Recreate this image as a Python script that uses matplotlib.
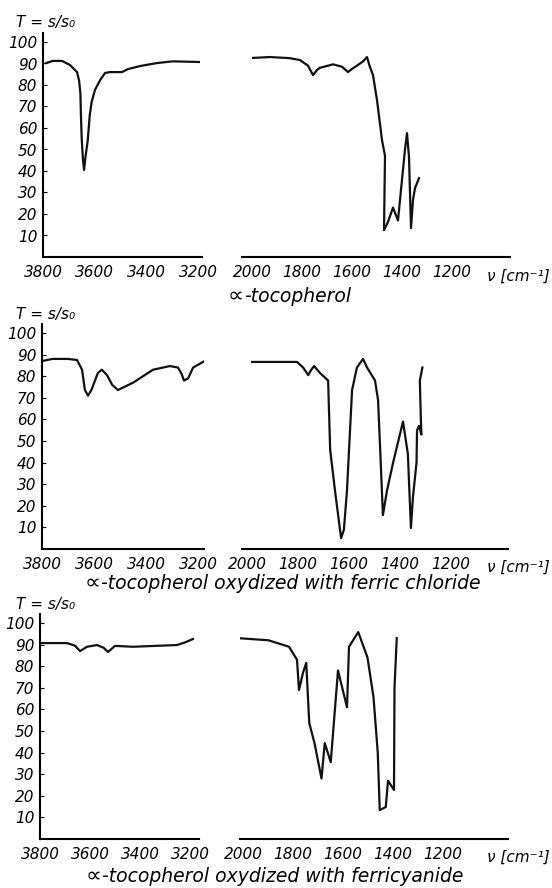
import matplotlib
matplotlib.use("Agg")
import matplotlib.pyplot as plt

# spectrum 1: alpha-tocopherol
p1_left_wn = [3788, 3762, 3727, 3696, 3669, 3661, 3656, 3654, 3651, 3646, 3642, 3636, 3628,
              3620, 3613, 3600, 3580, 3561, 3542, 3496, 3473, 3427, 3362, 3300, 3200]
p1_left_T = [90.2, 91.2, 91.2, 89.3, 86, 82, 76, 66, 55, 45, 40.5, 47, 54,
             66, 72, 77.7, 82.3, 85.6, 86, 86, 87.4, 88.8, 90.2, 91, 90.7]
p1_right_wn = [1996, 1928, 1850, 1808, 1776, 1756, 1740, 1728, 1676, 1640, 1616, 1600, 1580,
               1556, 1540, 1530, 1516, 1500, 1480, 1468, 1472, 1456, 1436, 1416, 1400, 1388,
               1380, 1372, 1364, 1356, 1348, 1332]
p1_right_T = [92.6, 93, 92.5, 91.6, 89, 84.6, 87, 88, 89.6, 88.5, 86, 87.5, 89,
              91, 93, 89, 84.6, 73, 54.4, 47, 12.5, 16.3, 23, 17, 36, 50,
              57.6, 46.5, 13.4, 26.5, 32, 36.7]

# spectrum 2: oxydized with ferric chloride
p2_left_wn = [3800, 3760, 3700, 3665, 3646, 3635, 3623, 3610, 3585, 3570, 3550, 3530, 3508,
              3450, 3373, 3308, 3277, 3263, 3254, 3238, 3219, 3175]
p2_left_T = [87, 88, 88, 87.5, 83, 73.6, 71, 73.6, 81.5, 83, 80.5, 76, 73.6,
             77, 83, 84.7, 84, 81, 78, 79, 84, 87]
p2_right_wn = [1980, 1804, 1780, 1760, 1748, 1737, 1714, 1682, 1674, 1655, 1631, 1620, 1608,
               1588, 1569, 1545, 1529, 1498, 1486, 1478, 1467, 1451, 1427, 1388, 1369, 1357,
               1349, 1335, 1333, 1325, 1316, 1318, 1322, 1312]
p2_right_T = [86.6, 86.6, 84, 80.5, 83, 84.7, 81.5, 78, 46, 27, 5, 9, 27,
              73.6, 84, 88, 84, 78, 69, 47, 15.7, 27, 40, 59, 44, 9.7,
              24, 40, 55, 57, 53, 60, 78, 84]

# spectrum 3: oxydized with ferricyanide
p3_left_wn = [3800, 3692, 3660, 3640, 3612, 3572, 3545, 3528, 3500, 3428, 3252, 3220, 3188]
p3_left_T = [90.7, 90.7, 89.5, 87, 89, 89.8, 88.5, 86.6, 89.4, 89, 89.8, 91, 92.6]
p3_right_wn = [2020, 1898, 1816, 1784, 1776, 1760, 1747, 1735, 1714, 1686, 1673, 1649, 1620,
               1584, 1576, 1539, 1502, 1478, 1461, 1453, 1429, 1420, 1396, 1394, 1385]
p3_right_T = [93, 92, 89, 83, 69, 77, 81.5, 53.7, 44.4, 28, 44.4, 35.6, 78,
              61, 89, 95.8, 84, 65.7, 40, 13.4, 14.8, 27, 22.7, 70, 93]

left_ticks = [3800, 3600, 3400, 3200]
right_ticks = [2000, 1800, 1600, 1400, 1200]
y_ticks = [10, 20, 30, 40, 50, 60, 70, 80, 90, 100]

alpha_sign = "\u221d"
titles = ["-tocopherol",
          "-tocopherol oxydized with ferric chloride",
          "-tocopherol oxydized with ferricyanide"]

W, H = 552, 888
fig = plt.figure(figsize=(W / 100, H / 100), dpi=100)
fs = 11
tfont = dict(family="DejaVu Sans", style="oblique", fontsize=fs)


def px_axes(x0, x1, ytop, ybot):
    return fig.add_axes([x0 / W, 1 - ybot / H, (x1 - x0) / W, (ybot - ytop) / H])


def style(ax, xlim, ticks, yaxis):
    ax.set_xlim(*xlim)
    ax.set_ylim(0, 104)
    ax.set_xticks(ticks)
    ax.set_xticklabels([str(t) for t in ticks], **tfont)
    ax.tick_params(axis="x", length=0, pad=6)
    for s in ["top", "right"]:
        ax.spines[s].set_visible(False)
    ax.spines["bottom"].set_linewidth(1.5)
    if yaxis:
        ax.set_yticks(y_ticks)
        ax.set_yticklabels([str(t) for t in y_ticks], **tfont)
        ax.tick_params(axis="y", direction="in", length=3, width=0.8, pad=4)
        ax.spines["left"].set_linewidth(1.5)
    else:
        ax.spines["left"].set_visible(False)
        ax.set_yticks([])
    ax.patch.set_alpha(0)


panels = [
    # baseline, px per 10 units, left axes px, left xlim, right axes px, right xlim, data
    (257, 21.5, (43, 202), (3800, 3188), (242, 510), (2040, 968),
     p1_left_wn, p1_left_T, p1_right_wn, p1_right_T),
    (549, 21.6, (42, 204), (3800, 3177), (242, 508), (2020, 976),
     p2_left_wn, p2_left_T, p2_right_wn, p2_right_T),
    (839, 21.6, (40, 199), (3800, 3164), (240, 508), (2012, 940),
     p3_left_wn, p3_left_T, p3_right_wn, p3_right_T),
]
label_y = [23, 315, 605]
nu_y = [276, 567, 857]
title_pos = [(228, 302), (85, 589), (86, 882)]

renderer = fig.canvas.get_renderer()
for i, (base, scale, lpx, lxlim, rpx, rxlim, lwn, lT, rwn, rT) in enumerate(panels):
    top = base - 10.4 * scale
    axl = px_axes(lpx[0], lpx[1], top, base)
    axr = px_axes(rpx[0], rpx[1], top, base)
    style(axl, lxlim, left_ticks, True)
    style(axr, rxlim, right_ticks, False)
    axl.plot(lwn, lT, color="#111111", lw=1.6, solid_joinstyle="round")
    axr.plot(rwn, rT, color="#111111", lw=1.6, solid_joinstyle="round")

    fig.text(16 / W, 1 - label_y[i] / H, "T = s/s\u2080", ha="left", va="center", **tfont)
    fig.text(550 / W, 1 - nu_y[i] / H, "\u03bd [cm\u207b\u00b9]", ha="right", va="center", **tfont)

    tx, ty = title_pos[i]
    a = fig.text(tx / W, 1 - ty / H, alpha_sign, ha="left", va="baseline",
                 family="DejaVu Sans", fontsize=16)
    bb = a.get_window_extent(renderer)
    fig.text(bb.x1 / W, 1 - ty / H, titles[i], ha="left", va="baseline",
             family="DejaVu Sans", style="oblique", fontsize=13.5)

fig.savefig("out.png", dpi=100)
